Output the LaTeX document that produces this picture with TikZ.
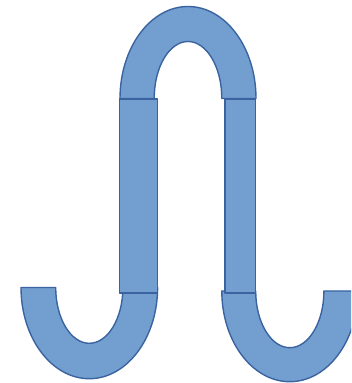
\documentclass[tikz,border=0pt]{standalone}
\definecolor{shapefill}{RGB}{114,159,207}
\definecolor{shapeline}{RGB}{58,99,160}
\tikzset{piece/.style={fill=shapefill,draw=shapeline,line width=1.4pt,line join=round}}
\begin{document}
\begin{tikzpicture}[x=1pt,y=1pt]
\useasboundingbox (0,0) rectangle (351,383);
\clip (0,0) rectangle (351,383);
% bottom left U
\path[piece] (21,95.5) arc[start angle=180,end angle=360,x radius=68.3,y radius=91.2]
  -- (122.9,95.5) arc[start angle=0,end angle=-180,x radius=33.6,y radius=55.8] -- cycle;
% bottom right U
\path[piece] (221.8,92) arc[start angle=180,end angle=360,x radius=68,y radius=90.7]
  -- (323.9,92) arc[start angle=0,end angle=-180,x radius=34.1,y radius=56.7] -- cycle;
% top arch
\path[piece] (120,284.5) arc[start angle=180,end angle=0,x radius=68,y radius=92]
  -- (221.8,284.5) arc[start angle=0,end angle=180,x radius=33.8,y radius=57] -- cycle;
% left bar
\path[piece] (119.5,90) rectangle (157.6,284);
% right bar
\path[piece] (225,90) rectangle (255.7,284);
\end{tikzpicture}
\end{document}
